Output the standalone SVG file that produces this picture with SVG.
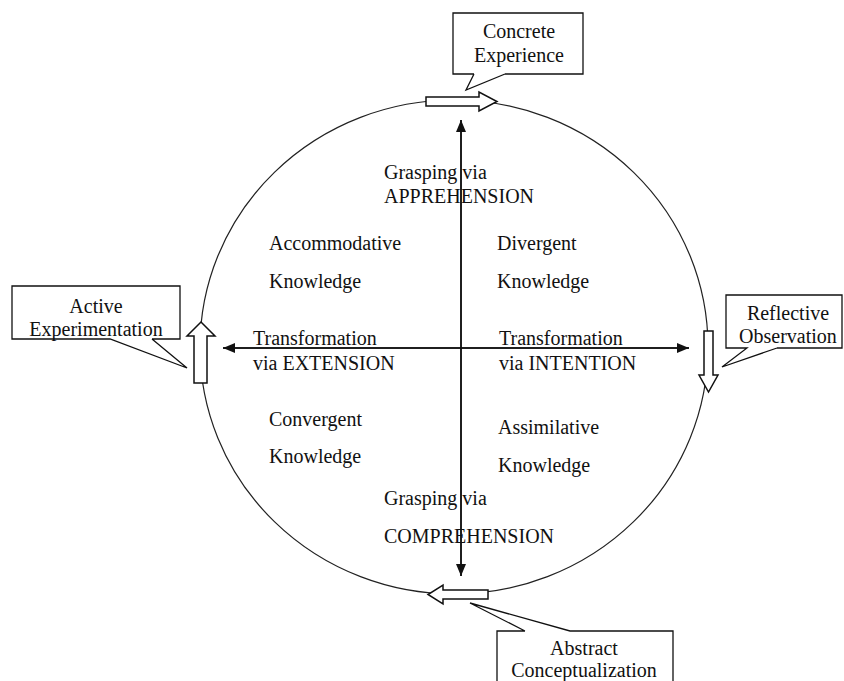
<svg xmlns="http://www.w3.org/2000/svg" width="844" height="681" viewBox="0 0 844 681">
<style>
text{font-family:"Liberation Serif","Times New Roman",serif;font-size:20px;fill:#111}
.c{text-anchor:middle}
.box{fill:#fff;stroke:#111;stroke-width:1.3}
.blk{fill:#fff;stroke:#111;stroke-width:1.5}
.axis{stroke:#111;stroke-width:1.5;fill:none}
</style>
<defs>
<marker id="ah" viewBox="0 0 12 10" refX="12" refY="5" markerWidth="12" markerHeight="10" markerUnits="userSpaceOnUse" orient="auto">
<path d="M0,0 L12,5 L0,10 Z" fill="#111"/>
</marker>
</defs>
<rect width="844" height="681" fill="#fff"/>
<g id="connectors">
<ellipse cx="454" cy="347" rx="254" ry="247" fill="none" stroke="#222" stroke-width="1.2"/>
<path class="blk" d="M426,97 H479 V92 L497,101.5 L479,111 V106 H426 Z"/>
<path class="blk" d="M704,331 H713 V375 H718 L708.5,392 L699,375 H704 Z"/>
<path class="blk" d="M488,590 H443 V585 L428,594.5 L443,604 V599 H488 Z"/>
<path class="blk" d="M194,383 V336 H187 L201,322 L215,336 H207 V383 Z"/>
<line class="axis" x1="461" y1="576" x2="461" y2="120" marker-end="url(#ah)"/>
<line class="axis" x1="461" y1="120" x2="461" y2="576" marker-end="url(#ah)"/>
<line class="axis" x1="689" y1="348" x2="223" y2="348" marker-end="url(#ah)"/>
<line class="axis" x1="223" y1="348" x2="689" y2="348" marker-end="url(#ah)"/>
</g>
<g id="concrete-experience">
<path class="box" d="M505,74 H583 V13 H453 V74 H474 M474,74 L466,90 L505,74"/>
<text class="c" x="519" y="38">Concrete</text>
<text class="c" x="519" y="62">Experience</text>
</g>
<g id="active-experimentation">
<path class="box" d="M152,339 H180 V286 H12 V339 H110 L187,368 L152,339"/>
<text class="c" x="96" y="313">Active</text>
<text class="c" x="96" y="336">Experimentation</text>
</g>
<g id="reflective-observation">
<path class="box" d="M777,348 H842 V295 H726 V348 H747 L722,367 L777,348"/>
<text class="c" x="788" y="320">Reflective</text>
<text class="c" x="788" y="343">Observation</text>
</g>
<g id="abstract-conceptualization">
<path class="box" d="M525,631 H497 V690 H673 V631 H570 L470,603 L525,631"/>
<text class="c" x="584" y="655">Abstract</text>
<text class="c" x="584" y="677">Conceptualization</text>
</g>
<g id="apprehension">
<text x="384" y="179">Grasping via</text>
<text x="384" y="203">APPREHENSION</text>
</g>
<g id="accommodative">
<text x="269" y="250">Accommodative</text>
<text x="269" y="288">Knowledge</text>
</g>
<g id="divergent">
<text x="497" y="250">Divergent</text>
<text x="497" y="288">Knowledge</text>
</g>
<g id="extension">
<text x="253" y="345">Transformation</text>
<text x="253" y="370">via EXTENSION</text>
</g>
<g id="intention">
<text x="499" y="345">Transformation</text>
<text x="499" y="370">via INTENTION</text>
</g>
<g id="convergent">
<text x="269" y="426">Convergent</text>
<text x="269" y="463">Knowledge</text>
</g>
<g id="assimilative">
<text x="498" y="434">Assimilative</text>
<text x="498" y="472">Knowledge</text>
</g>
<g id="comprehension">
<text x="384" y="505">Grasping via</text>
<text x="384" y="543">COMPREHENSION</text>
</g>
</svg>
